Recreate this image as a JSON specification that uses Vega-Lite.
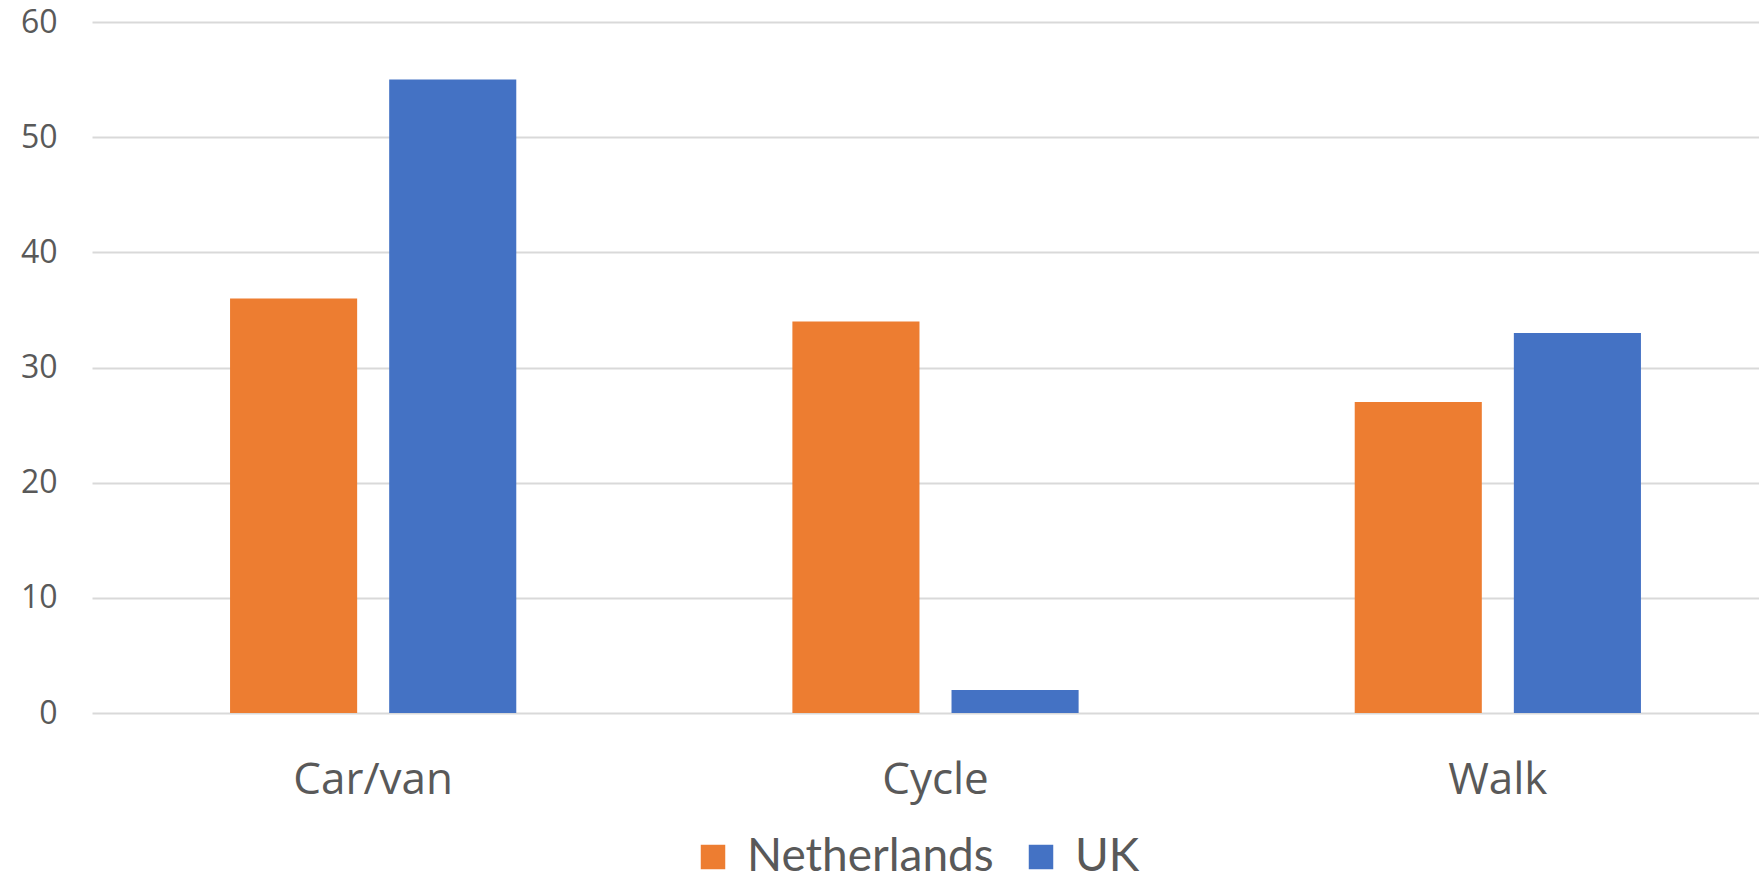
{
  "$schema": "https://vega.github.io/schema/vega-lite/v6.json",
  "width": 1667,
  "height": 691,
  "autosize": {"type": "none"},
  "padding": {"left": 92, "top": 22, "right": 0, "bottom": 168},
  "background": "#FFFFFF",
  "config": {
    "view": {"stroke": null},
    "axis": {"labelColor": "#595959", "domain": false, "ticks": false}
  },
  "data": {
    "values": [
      {"mode": "Car/van", "country": "Netherlands", "value": 36},
      {"mode": "Car/van", "country": "UK", "value": 55},
      {"mode": "Cycle", "country": "Netherlands", "value": 34},
      {"mode": "Cycle", "country": "UK", "value": 2},
      {"mode": "Walk", "country": "Netherlands", "value": 27},
      {"mode": "Walk", "country": "UK", "value": 33}
    ]
  },
  "mark": {"type": "bar"},
  "encoding": {
    "x": {
      "field": "mode",
      "type": "nominal",
      "sort": ["Car/van", "Cycle", "Walk"],
      "scale": {"range": [0, 1687], "paddingInner": 0.491, "paddingOuter": 0.2455},
      "axis": {
        "title": null,
        "labelAngle": 0,
        "labelFont": "Open Sans",
        "labelFontSize": 44,
        "labelPadding": 45,
        "grid": false
      }
    },
    "xOffset": {
      "field": "country",
      "type": "nominal",
      "sort": ["Netherlands", "UK"],
      "scale": {"paddingInner": 0.2013, "paddingOuter": 0}
    },
    "y": {
      "field": "value",
      "type": "quantitative",
      "scale": {"domain": [0, 60], "nice": false},
      "axis": {
        "title": null,
        "values": [0, 10, 20, 30, 40, 50, 60],
        "labelFont": "Open Sans",
        "labelFontSize": 32,
        "labelPadding": 35,
        "grid": true,
        "gridColor": "#D9D9D9",
        "gridWidth": 2
      }
    },
    "color": {
      "field": "country",
      "type": "nominal",
      "sort": ["Netherlands", "UK"],
      "scale": {"domain": ["Netherlands", "UK"], "range": ["#ED7D31", "#4472C4"]},
      "legend": {
        "title": null,
        "orient": "none",
        "direction": "horizontal",
        "legendX": 598,
        "legendY": 812,
        "symbolType": "square",
        "symbolSize": 600,
        "symbolStrokeWidth": 0,
        "labelFont": "Lato",
        "labelFontSize": 46,
        "labelLimit": 0,
        "labelColor": "#595959",
        "labelOffset": 11,
        "columnPadding": 24,
        "padding": 0
      }
    }
  }
}
